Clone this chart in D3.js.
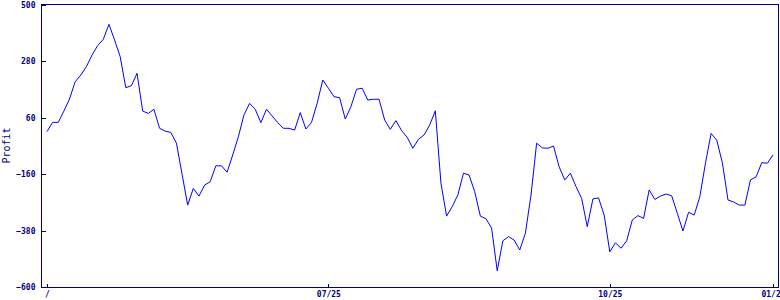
<!DOCTYPE html>
<html><head><meta charset="utf-8">
<script src="https://cdn.jsdelivr.net/npm/d3@7"></script>
<style>
html,body{margin:0;padding:0;background:#fff;overflow:hidden}
text{font-family:"DejaVu Sans Mono",monospace;fill:#000080}
</style></head>
<body>
<svg id="chart" width="780" height="300"></svg>
<script>
const profit = [5,41,41,85,132,199,225,258,303,340,364,423,362,297,176,184,232,85,76,92,
18,7,2,-40,-161,-281,-216,-246,-203,-190,-128,-128,-153,-86,-15,70,115,92,40,92,
66,40,18,18,11,79,15,41,115,206,174,141,137,54,102,170,174,128,131,131,
50,14,48,9,-17,-60,-25,-8,31,86,-196,-324,-287,-242,-157,-164,-229,-324,-334,-371,
-537,-420,-404,-417,-456,-391,-242,-40,-58,-60,-51,-132,-183,-157,-209,-255,-365,-257,-253,-320,
-463,-428,-449,-420,-339,-322,-333,-222,-259,-246,-238,-245,-313,-382,-309,-320,-248,-118,-2,-28,
-116,-261,-269,-281,-281,-183,-171,-116,-118,-86];
const xTickIndex = [0, 50, 100, 129];
const xTickLabels = ["/", "07/25", "10/25", "01/2"];
const yTicks = [500, 280, 60, -160, -380, -600];
const yTitle = "Profit";

(function () {
const svg = d3.select("#chart");
const mLeft = 41, mRight = 778, mTop = 4, mBottom = 287;
const x = d3.scaleLinear().domain([0, profit.length - 1]).range([47, 773]);
const y = d3.scaleLinear().domain([-600, 500]).range([mBottom, mTop + 0.5]);

// frame
svg.append("rect").attr("x", mLeft + 0.5).attr("y", mTop + 0.5)
  .attr("width", mRight - mLeft).attr("height", mBottom - mTop)
  .attr("fill", "none").attr("stroke", "#000080").attr("stroke-width", 1)
  .attr("shape-rendering", "crispEdges");

// y axis
const yAxis = d3.axisLeft(y).tickValues(yTicks).tickSize(-4).tickPadding(6).tickFormat(d3.format("d"));
const gy = svg.append("g").attr("transform", `translate(${mLeft + 0.5},0)`).call(yAxis);
gy.select(".domain").remove();
gy.selectAll("line").attr("stroke", "#000080").attr("shape-rendering", "crispEdges");
gy.selectAll("text").attr("font-size", 8).attr("fill", "#000080")
  .style("font-family", "'DejaVu Sans Mono', monospace").attr("font-weight", "bold");

// x axis
const xAxis = d3.axisBottom(x).tickValues(xTickIndex).tickSize(-4).tickPadding(4)
  .tickFormat((d, i) => xTickLabels[i]);
const gx = svg.append("g").attr("transform", `translate(0,${mBottom + 0.5})`).call(xAxis);
gx.select(".domain").remove();
gx.selectAll("line").attr("stroke", "#000080").attr("shape-rendering", "crispEdges");
gx.selectAll("text").attr("font-size", 8).attr("fill", "#000080")
  .style("font-family", "'DejaVu Sans Mono', monospace").attr("font-weight", "bold")
  .attr("dx", (d, i) => i === xTickIndex.length - 1 ? -2.4 : 0);

// y title
svg.append("text").attr("transform", `translate(10,${(mTop + mBottom) / 2}) rotate(-90)`)
  .attr("text-anchor", "middle").attr("font-size", 10).text(yTitle);

// line
const line = d3.line().x((d, i) => x(i)).y(d => y(d));
svg.append("path").datum(profit).attr("d", line)
  .attr("fill", "none").attr("stroke", "#0000ff").attr("stroke-width", 1);
})();
</script>
</body></html>
